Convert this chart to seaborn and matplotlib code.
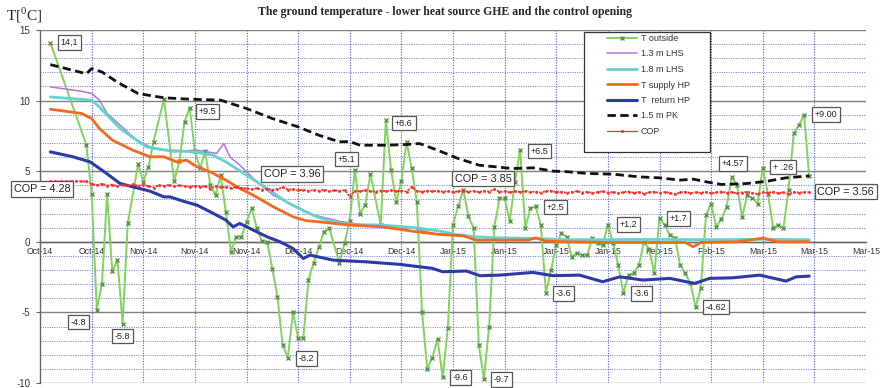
import matplotlib
matplotlib.use("Agg")
import matplotlib.pyplot as plt
import seaborn as sns
from matplotlib.lines import Line2D
from matplotlib.patches import Rectangle

# ---------------- data (day index, value) ----------------
title = "The ground temperature - lower heat source GHE and the control opening"
x_tick_labels = ["Oct-14", "Oct-14", "Nov-14", "Nov-14", "Nov-14", "Dec-14", "Dec-14", "Dec-14",
                 "Jan-15", "Jan-15", "Jan-15", "Jan-15", "Feb-15", "Feb-15", "Mar-15", "Mar-15", "Mar-15"]

t_outside = [(2, 14.1), (9, 6.84), (10, 3.42), (11, -4.8), (12, -3.0), (13, 3.4), (14, -2.1), (15, -1.3),
             (16, -5.8), (17, 1.3), (19, 5.5), (20, 4.25), (21, 5.3), (22, 7.1), (24, 10.1), (26, 4.3),
             (27, 5.7), (28, 8.5), (29, 9.5), (30, 6.4), (31, 5.2), (32, 6.4), (33, 4.0), (34, 3.3),
             (35, 4.7), (36, 2.1), (37, -0.7), (38, 0.35), (39, 0.35), (40, 1.4), (41, 2.4), (42, 0.95),
             (43, 0.05), (44, 0.0), (45, -1.9), (46, -3.9), (47, -7.3), (48, -8.2), (49, -5.0), (50, -6.8),
             (51, -6.8), (52, -2.7), (53, -1.5), (54, -0.4), (55, 0.7), (56, 1.0), (58, -1.5), (59, -0.1),
             (60, 1.5), (61, 5.1), (62, 2.0), (63, 2.6), (64, 4.8), (66, 1.2), (67, 8.6), (68, 5.1),
             (69, 2.8), (70, 4.3), (71, 7.1), (72, 5.2), (73, 2.8), (74, -4.95), (75, -9.0), (76, -8.2),
             (77, -6.9), (78, -9.6), (79, -6.1), (80, 1.2), (81, 2.5), (82, 3.7), (83, 1.8), (84, 0.95),
             (85, -7.3), (86, -9.7), (87, -6.0), (88, 1.06), (89, 3.07), (90, 3.07), (91, 1.5), (92, 4.25),
             (93, 6.5), (94, 1.0), (95, 2.36), (96, 2.5), (97, 1.2), (98, -3.6), (99, -2.0), (100, -0.2),
             (101, 0.6), (102, 0.35), (103, -1.06), (104, -0.78), (105, -0.94), (106, -0.94), (107, 0.28),
             (108, -0.1), (109, -0.23), (110, 1.2), (111, -0.1), (112, -1.65), (113, -3.6), (114, -2.36),
             (115, -2.24), (116, -1.65), (117, 0.0), (118, -0.52), (119, -2.24), (120, 1.7), (121, 1.18),
             (122, 0.47), (123, 0.3), (124, -1.65), (125, -2.24), (126, -2.95), (127, -4.62), (128, -3.3),
             (129, 1.9), (130, 2.7), (131, 1.06), (132, 1.65), (133, 2.48), (134, 4.57), (135, 4.0),
             (136, 1.77), (137, 3.3), (138, 3.1), (139, 2.7), (140, 5.26), (141, 3.42), (142, 1.0),
             (143, 1.18), (144, 1.0), (145, 3.66), (146, 7.67), (147, 8.26), (148, 9.0), (149, 4.67)]

lhs_13 = [(2, 10.97), (8, 10.66), (10, 10.5), (11.5, 10.03), (13, 9.09), (15.5, 8.26), (18.7, 7.2),
          (22, 6.6), (26, 6.37), (29.7, 6.49), (31.6, 6.42), (34.2, 6.26), (35.6, 6.96), (36.8, 6.0),
          (38.7, 5.43), (41.3, 4.49), (45.2, 3.3), (49.7, 2.48), (53, 1.9), (58, 1.45), (63, 1.18),
          (68, 0.95), (72, 1.0), (76, 0.6), (78.5, 0.5)]

lhs_18 = [(2, 10.26), (10, 10.03), (11.5, 9.55), (13, 8.97), (15.5, 8.03), (18.7, 7.2), (20.6, 6.72),
          (24.5, 6.49), (29.7, 6.37), (33.5, 6.14), (36, 5.66), (40, 4.72), (44, 3.78), (47.7, 2.83),
          (51, 2.2), (53.6, 1.77), (56.8, 1.42), (60, 1.23), (66.4, 1.18), (72.9, 0.99), (77.4, 0.76),
          (80.6, 0.52), (84.5, 0.35), (89, 0.28), (95.5, 0.24), (102, 0.15), (110, 0.15), (120, 0.17),
          (130, 0.15), (140, 0.18), (149, 0.15)]

t_supply = [(2, 9.39), (8, 9.09), (10, 8.73), (11.5, 8.03), (14, 7.2), (18, 6.49), (21.3, 6.02), (24, 6.02),
            (26.5, 5.66), (28.4, 5.78), (30.4, 5.31), (33, 4.95), (36, 4.37), (38.7, 3.78), (41.3, 3.3),
            (45.2, 2.48), (49, 1.77), (51.5, 1.5), (54, 1.42), (60, 1.18), (66.4, 1.06), (72.9, 0.71),
            (77.4, 0.52), (82, 0.42), (84.5, 0.12), (89, 0.12), (94.5, 0.12), (96, 0.28), (98, 0.05),
            (102, 0.0), (110, -0.05), (120, -0.05), (125, -0.05), (126.5, -0.35), (128, -0.05), (135, 0.0),
            (140, 0.26), (143, 0.0), (149, 0.0)]

t_return = [(2, 6.37), (6.4, 6.02), (9.7, 5.66), (12.9, 4.84), (15.5, 4.13), (18, 3.89), (21.3, 3.59),
            (24, 3.18), (25.2, 3.18), (27.7, 2.88), (30.4, 2.6), (33, 2.12), (36, 1.54), (37.4, 1.06),
            (38.7, 1.3), (41.3, 0.83), (44, 0.35), (46.5, 0.0), (49, -0.47), (51, -1.18), (52.3, -0.94),
            (56.8, -1.3), (63.2, -1.42), (69.7, -1.6), (76, -1.88), (78, -2.12), (82.6, -2.07), (85.2, -2.4),
            (89, -2.36), (95.5, -2.17), (99.4, -2.4), (104.5, -2.36), (109, -2.83), (112.3, -2.48),
            (116.8, -2.71), (122, -2.59), (126.8, -2.95), (129.7, -2.59), (134.2, -2.55), (139.4, -2.36),
            (144.5, -2.78), (146.5, -2.48), (149, -2.43)]

pk_15 = [(2, 12.55), (9, 11.9), (10, 12.27), (12, 12.03), (15, 11.3), (19, 10.5), (24, 10.2), (29, 10.1),
         (35, 10.03), (40, 9.44), (45, 8.73), (50, 8.14), (54, 7.55), (58, 7.08), (60, 7.1), (62, 6.84),
         (67, 6.84), (71, 6.89), (73.5, 6.96), (77, 6.49), (81, 5.9), (85, 5.43), (91.5, 5.19), (95.5, 5.24),
         (99.5, 5.0), (102, 4.97), (106, 4.84), (111, 4.79), (116, 4.6), (120, 4.53), (124, 4.37),
         (126.5, 4.44), (129, 4.25), (132, 4.06), (137, 4.13), (141, 4.3), (144.5, 4.53), (149, 4.67)]

cop_days = list(range(2, 150))
cop_values = [4.28, 4.28, 4.28, 4.28, 4.28, 4.28, 4.28, 4.28,
              4.08, 4.02, 4.10, 3.98, 4.05, 3.94, 4.03, 3.99, 4.07, 3.96,
              4.02, 3.95, 3.84, 4.00, 3.96, 4.03, 3.92, 3.99, 3.95, 3.88,
              3.97, 3.90, 3.93, 3.76, 3.92, 3.85, 3.90, 3.82, 3.88, 3.80,
              3.78, 3.72, 3.80, 3.70, 3.76, 3.68, 3.74, 3.86, 3.69, 3.72,
              3.64, 3.70, 3.60, 3.67, 3.62, 3.69, 3.58, 3.65, 3.61, 3.66,
              3.20, 3.62, 3.58, 3.66, 3.60, 3.55, 3.63, 3.59, 3.64, 3.57,
              3.62, 3.56, 3.88, 3.60, 3.54, 3.61, 3.57, 3.63, 3.55, 3.60,
              3.52, 3.58, 3.62, 3.55, 3.60, 3.53, 3.59, 3.56, 3.74, 3.54,
              3.58, 3.50, 3.57, 3.53, 3.60, 3.52, 3.56, 3.49, 3.58, 3.62,
              3.50, 3.55, 3.47, 3.53, 3.58, 3.49, 3.54, 3.46, 3.52, 3.57,
              3.48, 3.53, 3.45, 3.51, 3.56, 3.47, 3.52, 3.40, 3.50, 3.55,
              3.46, 3.52, 3.48, 3.36, 3.50, 3.54, 3.45, 3.51, 3.47, 3.53,
              3.44, 3.50, 3.56, 3.47, 3.52, 3.43, 3.49, 3.54, 3.46, 3.38,
              3.51, 3.47, 3.55, 3.44, 3.50, 3.36, 3.52, 3.48, 3.53, 3.50]

labels = ["14,1", "+9.5", "-4.8", "-5.8", "-8.2", "+5.1", "+8.6", "-9.6", "-9.7", "+6.5", "+2.5",
          "-3.6", "+1.2", "-3.6", "+1.7", "-4.62", "+4.57", "+ .26", "+9.00"]
cop_labels = ["COP = 4.28", "COP = 3.96", "COP = 3.85", "COP = 3.56"]

# ---------------- layout (label anchor positions, in data units) ----------------
label_pos = [(5.7, 14.1), (32.5, 9.22), (7.4, -5.69), (16.0, -6.68), (51.6, -8.27), (59.4, 5.86),
             (70.5, 8.41), (81.5, -9.62), (89.4, -9.76), (96.7, 6.42), (99.8, 2.46), (101.4, -3.67),
             (114.0, 1.22), (116.5, -3.67), (123.6, 1.64), (130.9, -4.62), (134.2, 5.54), (143.9, 5.29),
             (152.3, 9.01)]
cop_label_pos = [(0.4, 3.73), (48.9, 4.79), (85.8, 4.48), (156.1, 3.56)]

sns.set_theme(style="white")
plt.rcParams['font.family'] = ['Liberation Sans', 'DejaVu Sans']
plt.rcParams['mathtext.fontset'] = 'custom'
plt.rcParams['mathtext.rm'] = 'Liberation Serif'
plt.rcParams['axes.unicode_minus'] = False

fig = plt.figure(figsize=(8.82, 3.88), dpi=100)
ax = fig.add_axes([40 / 882, 5 / 388, 826 / 882, 353 / 388])

styles = [
    ("T outside", t_outside, dict(color="#82d35c", lw=1.4, marker="x", ms=3.4, mew=1.0, mec="#5e8f4a")),
    ("1.3 m LHS", lhs_13, dict(color="#b473d6", lw=1.1)),
    ("1.8 m LHS", lhs_18, dict(color="#63d4cc", lw=2.0)),
    ("T supply HP", t_supply, dict(color="#f26a22", lw=2.0)),
    ("T  return HP", t_return, dict(color="#2b3aa6", lw=2.2)),
    ("1.5 m PK", pk_15, dict(color="#111111", lw=2.0, linestyle="--")),
]

handles = []
for name, pts, kw in styles:
    xs = [p[0] for p in pts]
    ys = [p[1] for p in pts]
    sns.lineplot(x=xs, y=ys, ax=ax, estimator=None, sort=False, zorder=3, **kw)
    line = ax.lines[-1]
    if name == "1.5 m PK":
        line.set_dashes([3, 1.6])
    handles.append(Line2D([], [], label=name, **kw))
    if name == "1.5 m PK":
        handles[-1].set_dashes([3, 1.6])

cop_kw = dict(color="#ff2b2b", lw=1.3, linestyle=(0, (1.2, 0.8)), marker="o", ms=2.0, mec="none")
sns.lineplot(x=cop_days, y=cop_values, ax=ax, estimator=None, sort=False, zorder=3, **cop_kw)
handles.append(Line2D([], [], label="COP", color="#ff2b2b", lw=0.9, marker="o", ms=2.2, mec="none"))

# axes, grid
ax.set_xlim(0, 160)
ax.set_ylim(-10, 15)
ax.set_xticks(range(0, 161, 10))
ax.set_xticklabels(x_tick_labels)
ax.set_yticks(range(-10, 16, 5))
ax.set_yticks(range(-10, 16, 1), minor=True)
ax.set_axisbelow(True)
ax.grid(which="major", axis="y", color="#808080", lw=1.0, ls="-")
ax.grid(which="minor", axis="y", color="#6a78dc", lw=0.7, ls=(0, (1, 1.4)))
ax.grid(which="major", axis="x", color="#4a5bd4", lw=0.8, ls=(0, (1, 1.4)))
for s in ["top", "right"]:
    ax.spines[s].set_visible(False)
ax.spines["left"].set_color("#666666")
ax.spines["left"].set_linewidth(1.0)
ax.spines["bottom"].set_position(("data", 0))
ax.spines["bottom"].set_color("#666666")
ax.spines["bottom"].set_linewidth(1.0)
ax.tick_params(axis="x", which="both", length=0, pad=4, labelsize=6.3, labelcolor="#333333")
ax.tick_params(axis="y", which="major", length=3, width=0.8, color="#666666", direction="out",
               pad=4, labelsize=7, labelcolor="#333333", left=True)
ax.tick_params(axis="y", which="minor", length=0)
ax.set_xlabel("")
ax.set_ylabel("")

# value labels
box = dict(boxstyle="square,pad=0.3", fc="white", ec="#555555", lw=0.9)
for txt, (x, y) in zip(labels, label_pos):
    ax.text(x, y, txt, ha="center", va="center", fontsize=6.5, color="#222222", bbox=box,
            zorder=10, clip_on=False)
box2 = dict(boxstyle="square,pad=0.25", fc="white", ec="#555555", lw=0.9)
for txt, (x, y) in zip(cop_labels, cop_label_pos):
    ax.text(x, y, txt, ha="center", va="center", fontsize=7.8, color="#222222", bbox=box2,
            zorder=10, clip_on=False)

# legend with a separately drawn frame
fig.patches.append(Rectangle((584 / 882, 1 - 151.7 / 388), 126 / 882, 120 / 388,
                             transform=fig.transFigure, fc="white", ec="#333333", lw=0.9, zorder=5))
leg = fig.legend(handles=handles, loc="upper left", bbox_to_anchor=(607 / 882, 1 - 34 / 388),
                 frameon=False, fontsize=6.5, handlelength=3.3, handletextpad=0.45,
                 labelspacing=0.72, borderpad=0, borderaxespad=0)
leg.set_zorder(6)
for t in leg.get_texts():
    t.set_color("#333333")

fig.text(445 / 882, 1 - 12 / 388, title, ha="center", va="center", fontsize=8.5,
         fontweight="bold", family="Liberation Serif")
fig.text(6 / 882, 1 - 15 / 388, r"T[$^{\mathrm{0}}$C]", ha="left", va="center", fontsize=11,
         family="Liberation Serif")

fig.savefig("out.png", dpi=100)
